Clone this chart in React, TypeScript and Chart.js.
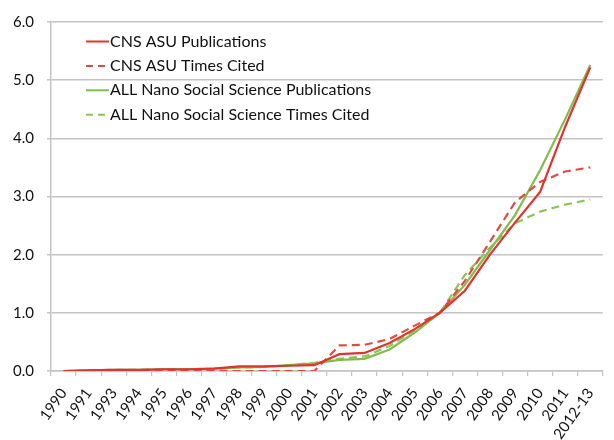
import React, { useEffect, useRef } from 'react';
import { Chart, registerables } from 'chart.js';

Chart.register(...registerables);

const categories = ['1990', '1991', '1993', '1994', '1995', '1996', '1997', '1998', '1999', '2000', '2001', '2002', '2003', '2004', '2005', '2006', '2007', '2008', '2009', '2010', '2011', '2012-13'];

const cnsPublications = [0.0, 0.01, 0.02, 0.02, 0.03, 0.03, 0.04, 0.08, 0.08, 0.09, 0.1, 0.29, 0.31, 0.48, 0.72, 1.0, 1.38, 2.0, 2.55, 3.08, 4.2, 5.22];
const cnsTimesCited = [0.0, 0.0, 0.0, 0.0, 0.0, 0.0, 0.0, 0.0, 0.0, 0.0, 0.0, 0.44, 0.45, 0.55, 0.78, 1.0, 1.55, 2.22, 2.9, 3.25, 3.43, 3.5];
const allPublications = [0.0, 0.01, 0.02, 0.02, 0.03, 0.03, 0.04, 0.06, 0.07, 0.1, 0.13, 0.19, 0.21, 0.37, 0.66, 1.0, 1.48, 2.08, 2.68, 3.45, 4.33, 5.26];
const allTimesCited = [0.0, 0.01, 0.02, 0.02, 0.03, 0.03, 0.04, 0.06, 0.07, 0.1, 0.14, 0.21, 0.25, 0.43, 0.7, 1.0, 1.65, 2.12, 2.54, 2.74, 2.86, 2.95];

const seriesLabels = [
  'CNS ASU Publications',
  'CNS ASU Times Cited',
  'ALL Nano Social Science Publications',
  'ALL Nano Social Science Times Cited',
];

const RED = '#e3322d';
const RED_DASH = '#dc4b45';
const GREEN = '#80bd4e';
const GREEN_DASH = '#8cc45c';

export default function App() {
  const ref = useRef<HTMLCanvasElement>(null);

  useEffect(() => {
    document.body.style.margin = '0';
    const canvas = ref.current;
    if (!canvas) return;

    const innerLegend = {
      id: 'innerLegend',
      afterDraw(chart: any) {
        const c = chart.ctx;
        const area = chart.chartArea;
        c.save();
        chart.data.datasets.forEach((ds: any, i: number) => {
          const y = area.top + 19.5 + i * 24.4;
          const x0 = area.left + 35;
          c.strokeStyle = ds.borderColor;
          c.lineWidth = 2;
          c.setLineDash(ds.borderDash ? [7, 5] : []);
          c.beginPath();
          c.moveTo(x0, y);
          c.lineTo(x0 + 23, y);
          c.stroke();
          c.setLineDash([]);
          c.fillStyle = '#111';
          c.font = '16px Lato';
          c.textBaseline = 'middle';
          c.textAlign = 'left';
          c.fillText(ds.label, x0 + 24, y);
        });
        c.restore();
      },
    };

    const chart = new Chart(canvas, {
      type: 'line',
      data: {
        labels: categories,
        datasets: [
          { label: seriesLabels[0], data: cnsPublications, borderColor: RED, borderWidth: 2.2, pointRadius: 0, tension: 0, fill: false },
          { label: seriesLabels[1], data: cnsTimesCited, borderColor: RED_DASH, borderWidth: 2.2, borderDash: [8, 5], pointRadius: 0, tension: 0, fill: false },
          { label: seriesLabels[2], data: allPublications, borderColor: GREEN, borderWidth: 2.2, pointRadius: 0, tension: 0, fill: false },
          { label: seriesLabels[3], data: allTimesCited, borderColor: GREEN_DASH, borderWidth: 2.2, borderDash: [8, 5], pointRadius: 0, tension: 0, fill: false },
        ],
      },
      options: {
        responsive: false,
        animation: false,
        layout: { padding: { top: 20, right: 0, left: 0, bottom: 0 } },
        plugins: {
          legend: { display: false },
          tooltip: { enabled: false },
        },
        scales: {
          x: {
            offset: true,
            grid: { offset: true, drawOnChartArea: false, drawTicks: true, tickLength: 5, color: '#c4c4c4', lineWidth: 1.2 },
            border: { color: '#c4c4c4', width: 1.5 },
            ticks: {
              autoSkip: false,
              minRotation: 55,
              maxRotation: 55,
              padding: 9,
              color: '#111',
              font: { family: 'Lato', size: 15 },
            },
            afterFit: (scale: any) => {
              scale.height = 69;
            },
          },
          y: {
            min: 0,
            max: 6,
            ticks: {
              stepSize: 1,
              padding: 13,
              color: '#111',
              font: { family: 'Lato', size: 15 },
              callback: (v: any) => Number(v).toFixed(1),
            },
            grid: { color: '#c4c4c4', lineWidth: 1.5, tickLength: 4 },
            border: { color: '#c4c4c4', width: 1.5 },
            afterFit: (scale: any) => {
              scale.width = 51;
            },
          },
        },
      },
      plugins: [innerLegend],
    });

    return () => chart.destroy();
  }, []);

  return <canvas ref={ref} width={614} height={440} style={{ display: 'block' }} />;
}
